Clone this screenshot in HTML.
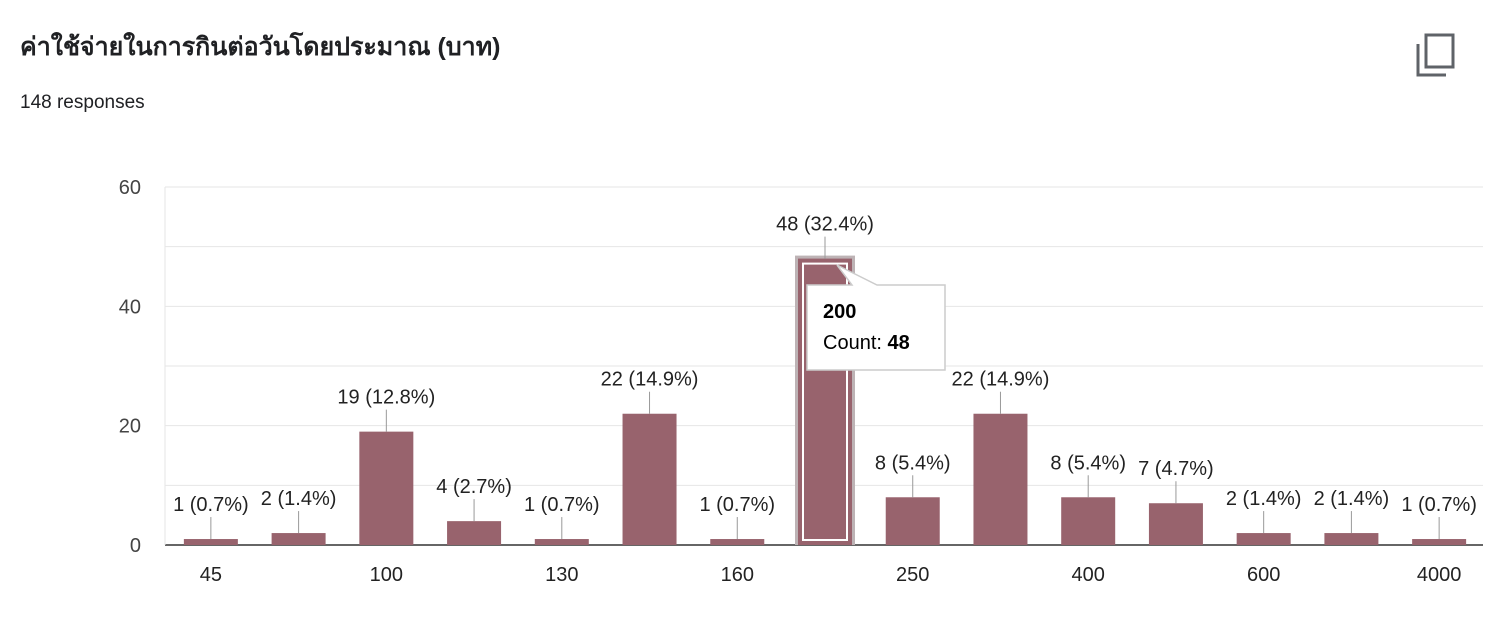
<!DOCTYPE html>
<html><head><meta charset="utf-8">
<style>
body{margin:0;width:1498px;height:630px;background:#fff;font-family:"Liberation Sans","Noto Sans CJK SC",sans-serif;position:relative;overflow:hidden}
#title{position:absolute;left:20px;top:27px;font-size:25px;font-weight:bold;color:#202124;font-family:"Liberation Sans","Noto Sans CJK SC","WenQuanYi Zen Hei",sans-serif}
#sub{position:absolute;left:20px;top:92px;font-size:19px;color:#202124}
svg{position:absolute;left:0;top:0}
</style></head><body>
<div id="title">ค่าใช้จ่ายในการกินต่อวันโดยประมาณ (บาท)</div>
<div id="sub">148 responses</div>
<svg id="chart" width="1498" height="630">
<g fill="none" stroke="#5f6368" stroke-width="3">
<rect x="1426" y="35" width="27" height="32"/>
<path d="M1418 44 V75 H1446"/>
</g>
</svg>
<script>
const categories=["45","50","100","120","130","150","160","200","250","300","400","500","600","1000","4000"];
const values=[1,2,19,4,1,22,1,48,8,22,8,7,2,2,1];
const percents=["0.7%","1.4%","12.8%","2.7%","0.7%","14.9%","0.7%","32.4%","5.4%","14.9%","5.4%","4.7%","1.4%","1.4%","0.7%"];
const yTicks=[0,20,40,60];
const highlighted=7;
const svg=document.getElementById('chart');
const NS='http://www.w3.org/2000/svg';
const L=167,R=1483,T=187,B=545,yMax=60;
const band=(R-L)/categories.length,bw=54;
const y=v=>B-(B-T)*v/yMax;
const xc=i=>L+band*(i+0.5);
function mk(t,a,p){const e=document.createElementNS(NS,t);for(const k in a)e.setAttribute(k,a[k]);(p||svg).appendChild(e);return e;}
for(let v=0;v<=yMax;v+=10){const g=mk('line',{x1:165,x2:R,y1:y(v),y2:y(v),stroke:v===0?'#333':'#e6e6e6','stroke-width':v===0?1.5:1});

}
mk('line',{x1:165,x2:165,y1:T,y2:B,stroke:'#e6e6e6'});
yTicks.forEach(v=>{const t=mk('text',{x:141,y:y(v)+7,'text-anchor':'end','font-size':20,fill:'#444'});t.textContent=v;

});
categories.forEach((c,i)=>{
 if(i%2===0){const t=mk('text',{x:xc(i),y:581,'text-anchor':'middle','font-size':20,fill:'#222'});t.textContent=c;
 
 }
 const top=y(values[i]);
 if(i===highlighted){mk('rect',{x:xc(i)-bw/2-3,y:top-3,width:bw+6,height:B-top+3,fill:'#bdb3b5'});}
 const r=mk('rect',{x:xc(i)-bw/2,y:top,width:bw,height:B-top,fill:'#98636d'});
 
 
 if(i===highlighted){mk('rect',{x:xc(i)-bw/2+5,y:top+5,width:bw-10,height:B-top-10,fill:'none',stroke:'#fff','stroke-width':2});}
 mk('line',{x1:xc(i),x2:xc(i),y1:top,y2:top-22,stroke:'#999'});
 const lb=mk('text',{x:xc(i),y:top-28,'text-anchor':'middle','font-size':20,fill:'#222'});
 lb.textContent=values[i]+' ('+percents[i]+')';
 
 
});
const tg=mk('g',{});


const tx=807,ty=285;
mk('path',{d:`M${tx} ${ty} L${tx+45} ${ty} L${tx+30} ${ty-20} L${tx+70} ${ty} L${tx+138} ${ty} L${tx+138} ${ty+85} L${tx} ${ty+85} Z`,fill:'#fff',stroke:'#ccc','stroke-width':1.5},tg);
const t1=mk('text',{x:tx+16,y:ty+33,'font-size':20,'font-weight':'bold',fill:'#000'},tg);t1.textContent=categories[highlighted];
const t2=mk('text',{x:tx+16,y:ty+64,'font-size':20,fill:'#000'},tg);t2.innerHTML='Count: <tspan font-weight="bold">'+values[highlighted]+'</tspan>';
</script>
</body></html>
